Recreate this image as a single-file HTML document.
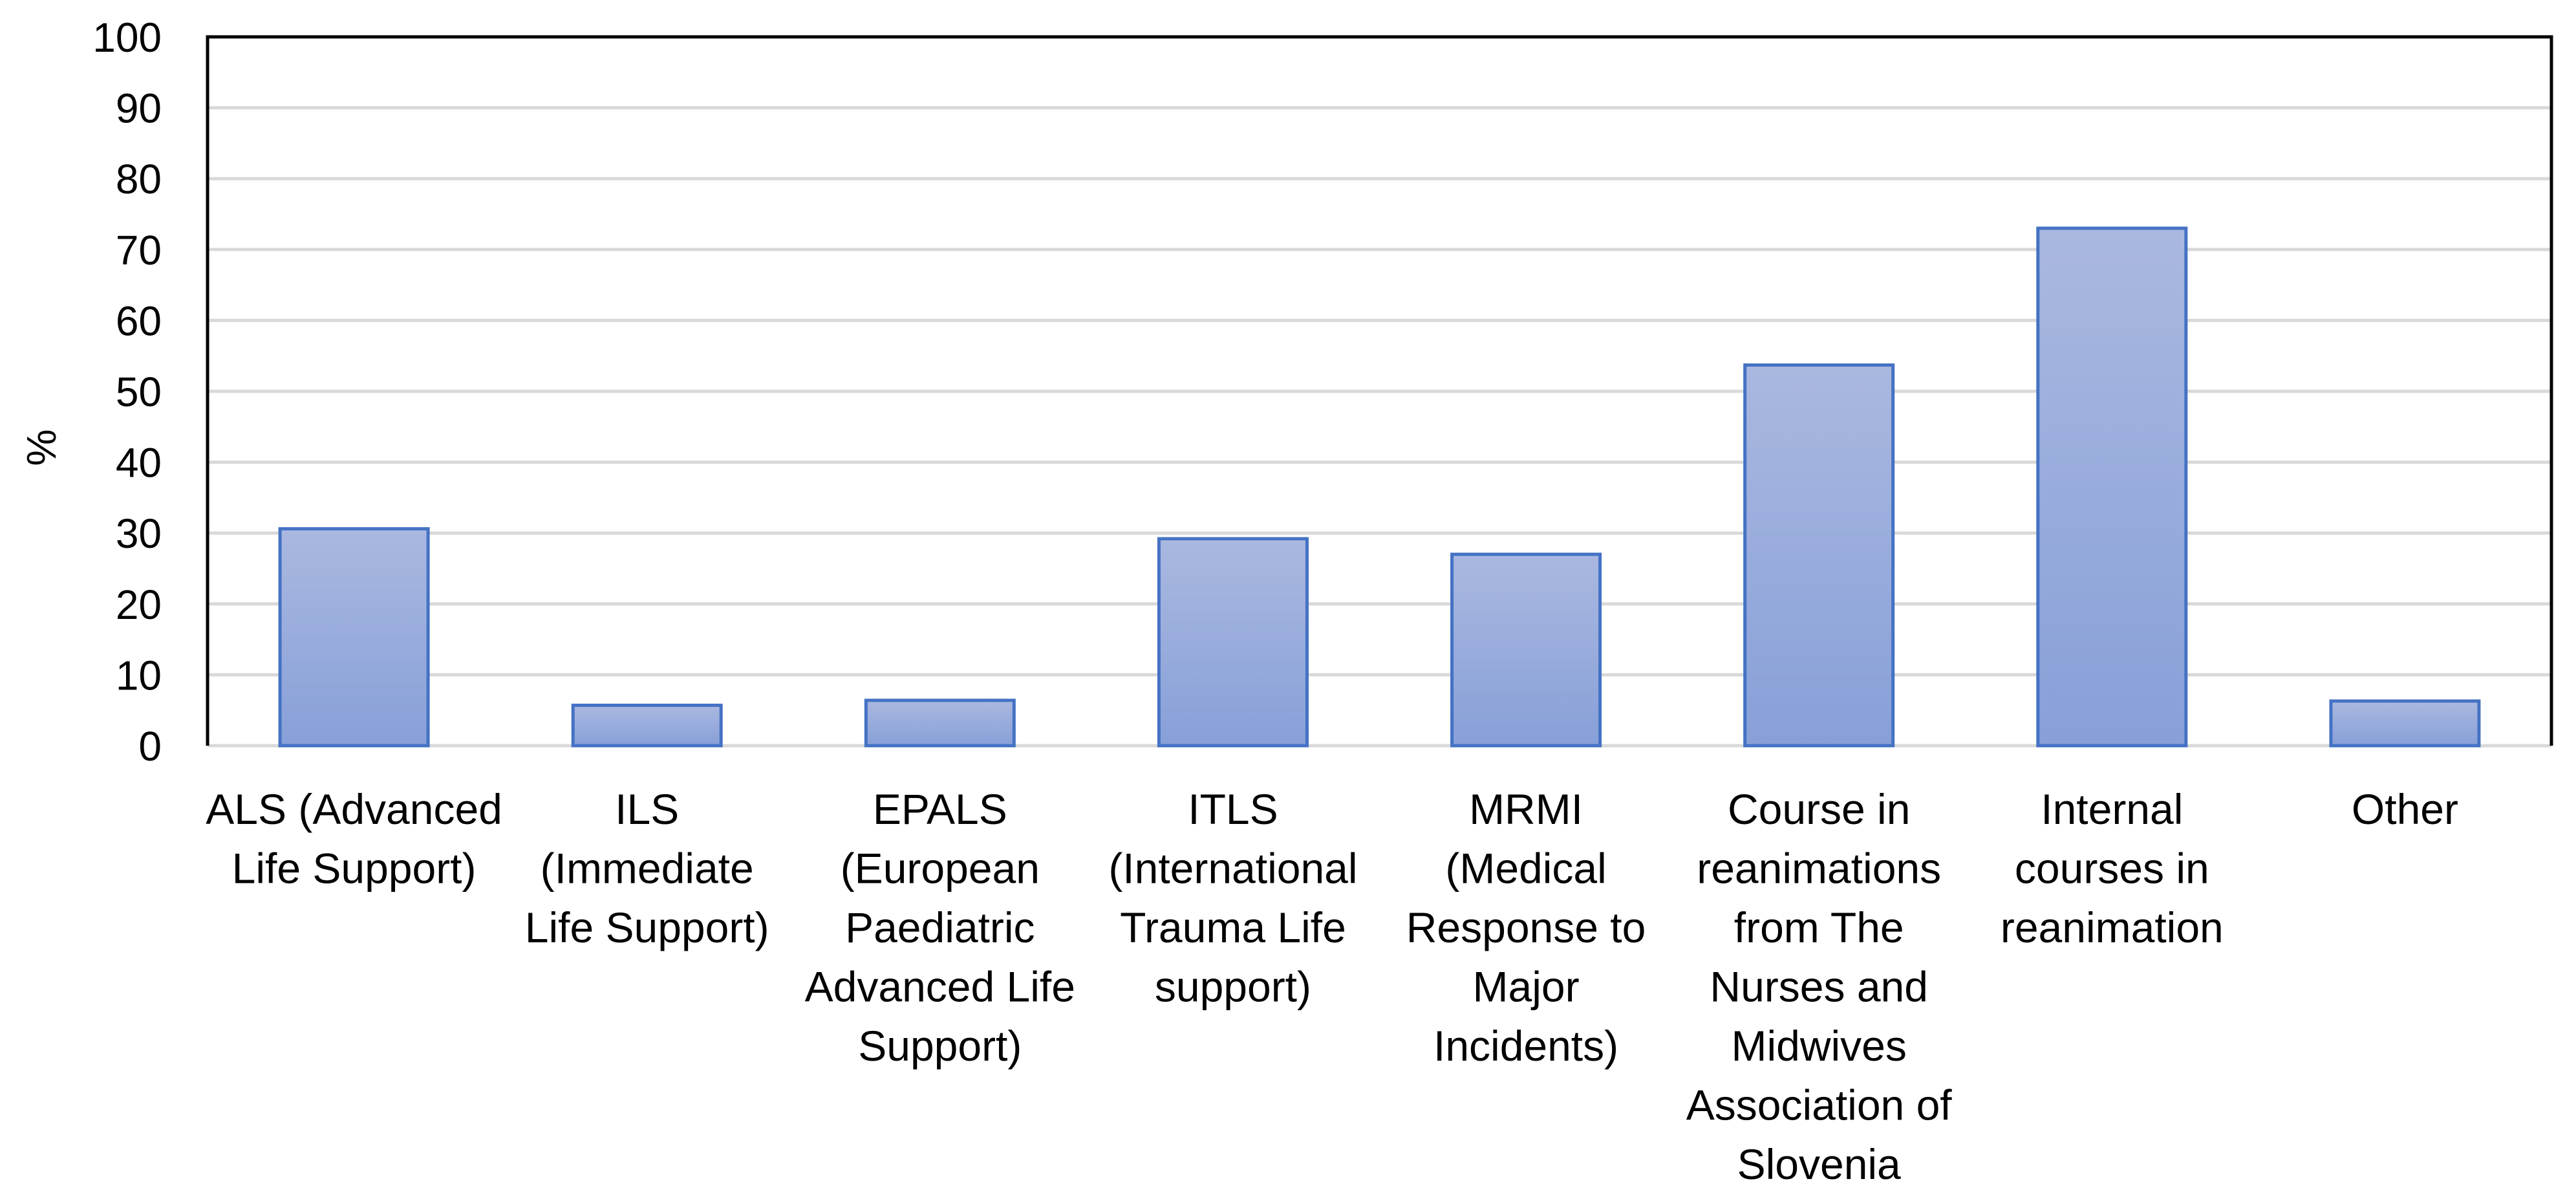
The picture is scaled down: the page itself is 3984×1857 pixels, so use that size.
<!DOCTYPE html>
<html><head><meta charset="utf-8"><style>
html,body{margin:0;padding:0;background:#fff;}
svg{display:block;font-family:"Liberation Sans",sans-serif;}
</style></head><body>
<svg id="chart" width="3984" height="1857" viewBox="0 0 3984 1857" xmlns="http://www.w3.org/2000/svg">
<defs><linearGradient id="barGrad" x1="0" y1="0" x2="0" y2="1"><stop offset="0" stop-color="#aab8e0"/><stop offset="1" stop-color="#87a0d8"/></linearGradient></defs>
<g id="grid"></g><g id="bars"></g><g id="axes"></g><g id="labels"></g>
</svg>
<script>
const categories = [
  ["ALS (Advanced","Life Support)"],
  ["ILS","(Immediate","Life Support)"],
  ["EPALS","(European","Paediatric","Advanced Life","Support)"],
  ["ITLS","(International","Trauma Life","support)"],
  ["MRMI","(Medical","Response to","Major","Incidents)"],
  ["Course in","reanimations","from The","Nurses and","Midwives","Association of","Slovenia"],
  ["Internal","courses in","reanimation"],
  ["Other"]
];
const values = [30.6, 5.7, 6.4, 29.2, 27.0, 53.7, 73.0, 6.3];
const yTicks = [0,10,20,30,40,50,60,70,80,90,100];

const NS="http://www.w3.org/2000/svg";
const L=321, R=3946, T=57, B=1153, yMax=100;
const bw=(R-L)/categories.length, barW=229;
const y=v=>B-(v/yMax)*(B-T);
const xc=i=>L+bw*(i+0.5);
function mk(tag,attrs,parent){const e=document.createElementNS(NS,tag);for(const k in attrs)e.setAttribute(k,attrs[k]);parent.appendChild(e);return e;}
const grid=document.getElementById('grid'),bars=document.getElementById('bars'),axes=document.getElementById('axes'),labels=document.getElementById('labels');

yTicks.forEach(t=>{
  if(t<yMax){const g=mk('line',{x1:L,x2:R,y1:y(t),y2:y(t),stroke:'#d9d9d9','stroke-width':5},grid);
  
  }
  const tl=mk('text',{x:250,y:y(t)+23,'text-anchor':'end','font-size':64,fill:'#000'},labels);
  tl.textContent=t;
  
  
});

values.forEach((v,i)=>{
  const r=mk('rect',{x:xc(i)-barW/2,y:y(v),width:barW,height:B-y(v),fill:'url(#barGrad)',stroke:'#4472c4','stroke-width':5},bars);
  
  
});

const ax=mk('polyline',{points:`${L},${B} ${L},${T} ${R},${T} ${R},${B}`,fill:'none',stroke:'#000','stroke-width':5},axes);



categories.forEach((lines,i)=>{
  const t=mk('text',{x:xc(i),y:1274,'text-anchor':'middle','font-size':66,fill:'#000'},labels);
  
  
  lines.forEach((ln,j)=>{const s=mk('tspan',{x:xc(i),y:1274+j*91.5},t);s.textContent=ln;});
});

const yt=mk('text',{x:0,y:0,transform:'translate(86,692) rotate(-90)','text-anchor':'middle','font-size':64,fill:'#000'},labels);
yt.textContent='%';


</script>
</body></html>
